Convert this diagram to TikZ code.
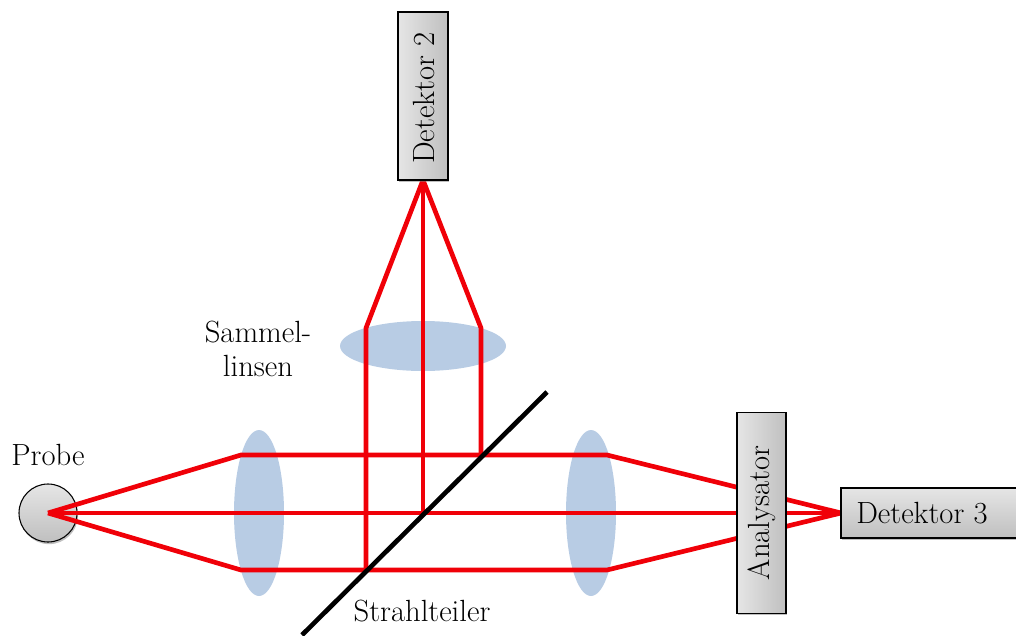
\documentclass[tikz,border=0pt]{standalone}
\usetikzlibrary{shadows,shapes.geometric}
\definecolor{lens}{HTML}{B8CCE4}
\definecolor{beam}{HTML}{F00008}
\tikzset{
  softshadow/.style={drop shadow={shadow xshift=0.8pt,shadow yshift=-1.6pt,opacity=0.5}},
  unitbox/.style={draw=black,line width=1pt,inner sep=0pt,anchor=center,softshadow},
  hbox/.style={unitbox,top color=gray!20,bottom color=gray!50},
  vbox/.style={unitbox,left color=gray!20,right color=gray!50},
  lensshape/.style={ellipse,fill=lens,inner sep=0pt},
  ray/.style={draw=beam,line width=3.5pt,line join=round},
  txt/.style={font=\fontsize{23}{26}\selectfont,inner sep=0pt},
}
\begin{document}
\begin{tikzpicture}[x=0.75pt,y=-0.75pt]
\useasboundingbox (0,0) rectangle (1016,635);
\node[lensshape,minimum width=37.5pt,minimum height=124.5pt] (L1) at (259,513) {};
\node[lensshape,minimum width=37.5pt,minimum height=124.5pt] (L2) at (591,513) {};
\node[lensshape,minimum width=124.5pt,minimum height=37.5pt] (L3) at (423,346) {};
\node[circle,draw=black,line width=0.8pt,minimum size=43.5pt,inner sep=0pt,top color=gray!20,bottom color=gray!50,softshadow] (P) at (48,513) {};
\coordinate (pc) at (48,513);
\coordinate (a1) at (241,455);
\coordinate (a2) at (607,455);
\coordinate (c1) at (241,570);
\coordinate (c2) at (607,570);
\coordinate (s1) at (481,455);
\coordinate (s2) at (423,513);
\coordinate (s3) at (366,570);
\coordinate (u1) at (481,328);
\coordinate (u3) at (366,328);
\coordinate (d2) at (423,180);
\coordinate (d3) at (841,513);
\coordinate (b1) at (302,635);
\coordinate (b2) at (547,392);
\draw[ray] (pc) -- (a1) -- (a2) -- (d3);
\draw[ray] (pc) -- (d3);
\draw[ray] (pc) -- (c1) -- (c2) -- (d3);
\draw[ray] (s1) -- (u1) -- (d2);
\draw[ray] (s2) -- (d2);
\draw[ray] (s3) -- (u3) -- (d2);
\draw[black,line width=3.5pt] (b1) -- (b2);
\node[vbox,minimum width=36.75pt,minimum height=150.5pt] (A) at (761.5,513) {};
\node[txt,rotate=90] (Atext) at (762,513) {Analysator};
\node[vbox,minimum width=37.5pt,minimum height=126pt] (D2) at (423,96) {};
\node[txt,rotate=90] (D2text) at (424,98) {Detektor 2};
\node[hbox,minimum width=135pt,minimum height=37.5pt] (D3) at (931,513) {};
\node[txt] (D3text) at (922,513) {Detektor 3};
\node[txt] (probe) at (48,455) {Probe};
\node[txt,align=center] (samm) at (258,349) {Sammel-\\linsen};
\node[txt] (st) at (422,611) {Strahlteiler};
\end{tikzpicture}
\end{document}
